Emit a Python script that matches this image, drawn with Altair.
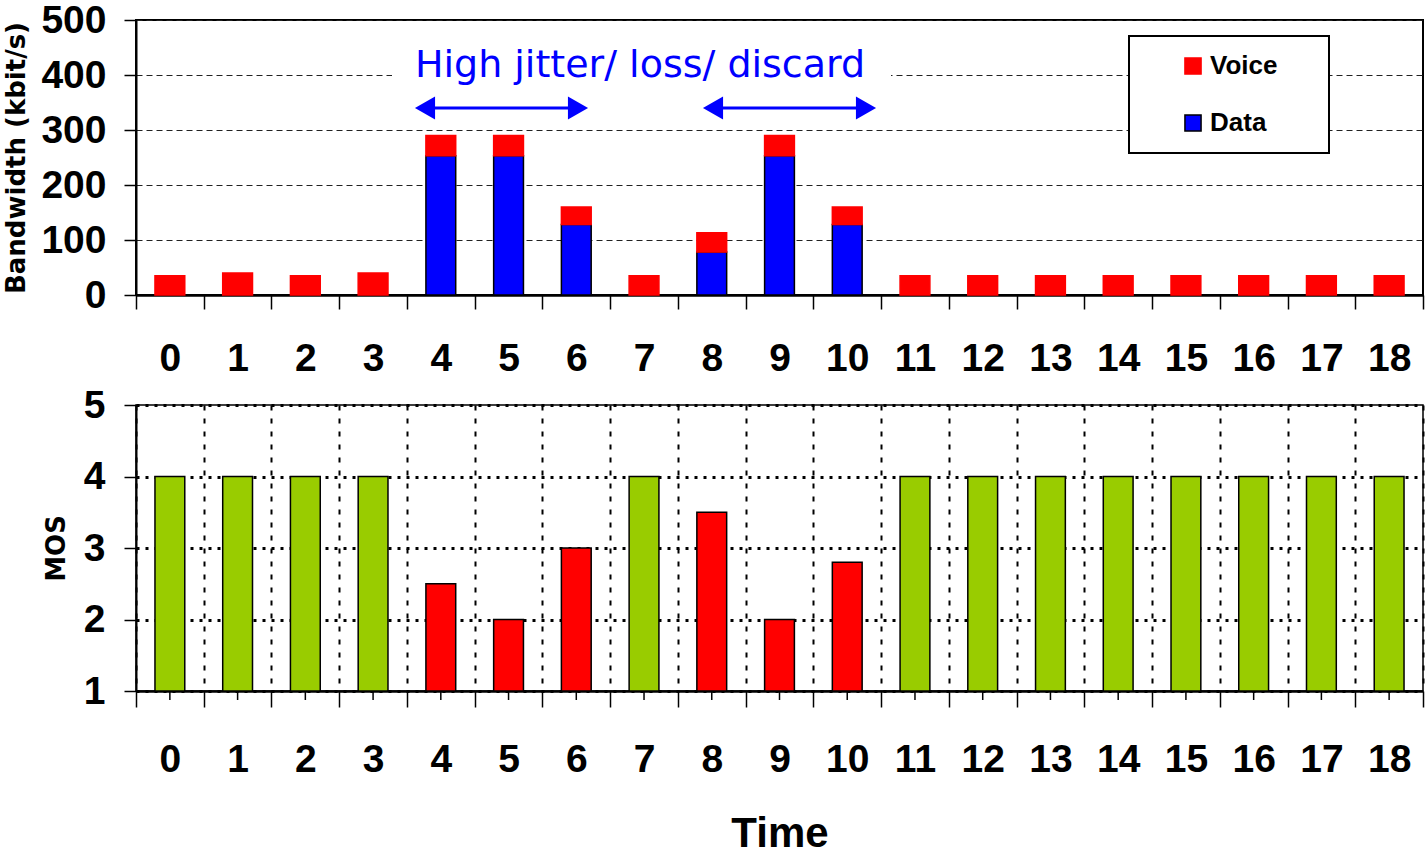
import altair as alt
import pandas as pd

# ---------------- data ----------------
times = list(range(19))
voice_bw = [35, 40, 35, 40, 37, 37, 32, 35, 35, 37, 32, 35, 35, 35, 35, 35, 35, 35, 35]
data_bw = [0, 0, 0, 0, 253, 253, 128, 0, 78, 253, 128, 0, 0, 0, 0, 0, 0, 0, 0]
mos = [4, 4, 4, 4, 2.5, 2, 3, 4, 3.5, 2, 2.8, 4, 4, 4, 4, 4, 4, 4, 4]
degraded_times = [4, 5, 6, 8, 9, 10]
series_names = ["Voice", "Data"]
state_names = ["Good", "Degraded"]
annotation = "High jitter/ loss/ discard"
y_title_top = "Bandwidth (kbit/s)"
y_title_bottom = "MOS"
x_title = "Time"

# ---------------- tables ----------------
rows = []
for t, v, d in zip(times, voice_bw, data_bw):
    if d > 0:
        rows.append({"t": t, "series": "Data", "value": d, "order": 0})
    rows.append({"t": t, "series": "Voice", "value": v, "order": 1})
bw_df = pd.DataFrame(rows)

mos_df = pd.DataFrame({
    "t": times,
    "mos": mos,
    "state": ["Degraded" if t in degraded_times else "Good" for t in times],
})

W = 1287
H_TOP = 275
H_BOT = 286
LABEL_FONT = "Liberation Sans, Arial, sans-serif"
TITLE_FONT = "DejaVu Sans, Verdana, sans-serif"

x_scale = alt.Scale(domain=times, paddingInner=0, paddingOuter=0)

# ---------------- top chart ----------------
top_x_axis = alt.Axis(
    title=None, tickBand="extent", grid=False, labelAngle=0,
    domainColor="black", domainWidth=2.5, tickColor="black", tickWidth=1.5, tickSize=14,
    labelFont=LABEL_FONT, labelFontSize=39, labelFontWeight="bold", labelColor="black",
    labelPadding=30,
)
top_y_axis = alt.Axis(
    title=y_title_top, values=[0, 100, 200, 300, 400, 500],
    grid=True, gridDash=[6, 4], gridColor="#222222", gridWidth=1,
    domainColor="black", domainWidth=2, tickColor="black", tickWidth=1.5, tickSize=12,
    labelFont=LABEL_FONT, labelFontSize=39, labelFontWeight="bold", labelColor="black",
    labelPadding=18,
    titleFont=TITLE_FONT, titleFontSize=26, titleFontWeight="bold", titleColor="black",
    titlePadding=11,
)

bars_top = alt.Chart(bw_df).mark_bar(
    width=alt.RelativeBandSize(0.44), strokeWidth=1.5
).encode(
    x=alt.X("t:O", scale=x_scale, axis=top_x_axis),
    y=alt.Y("value:Q", stack="zero", scale=alt.Scale(domain=[0, 500], nice=False), axis=top_y_axis),
    fill=alt.Fill("series:N", scale=alt.Scale(domain=series_names, range=["#FF0000", "#0000FF"]),
                  legend=alt.Legend(title=None)),
    stroke=alt.Stroke("series:N", scale=alt.Scale(domain=series_names, range=["#FF0000", "#000000"]),
                      legend=alt.Legend(title=None)),
    order=alt.Order("order:Q"),
)

one = pd.DataFrame({"label": [annotation]})

label_bg = alt.Chart(one).mark_rect(fill="white").encode(
    x=alt.value(256), x2=alt.value(755), y=alt.value(44), y2=alt.value(66)
)
label_text = alt.Chart(one).mark_text(
    font=TITLE_FONT, fontSize=38, color="#0000FF", align="center", baseline="alphabetic"
).encode(text="label:N", x=alt.value(504), y=alt.value(57))

legend_box = alt.Chart(one).mark_rect(fill="white", stroke="black", strokeWidth=2).encode(
    x=alt.value(993), x2=alt.value(1193), y=alt.value(16), y2=alt.value(133)
)

arrow_layers = []
for xa, xb in [(278, 453), (566, 741)]:
    arrow_layers.append(
        alt.Chart(one).mark_rule(color="#0000FF", strokeWidth=3).encode(
            x=alt.value(xa + 8), x2=alt.value(xb - 8), y=alt.value(88)
        )
    )
    arrow_layers.append(
        alt.Chart(one).mark_point(shape="triangle-left", filled=True, color="#0000FF", size=540, opacity=1).encode(
            x=alt.value(xa + 11), y=alt.value(88)
        )
    )
    arrow_layers.append(
        alt.Chart(one).mark_point(shape="triangle-right", filled=True, color="#0000FF", size=540, opacity=1).encode(
            x=alt.value(xb - 11), y=alt.value(88)
        )
    )

top = alt.layer(legend_box, label_bg, bars_top, label_text, *arrow_layers).properties(
    width=W, height=H_TOP, view=alt.ViewBackground(stroke="black", strokeWidth=2)
)

# ---------------- bottom chart ----------------
bot_x_axis = alt.Axis(
    title=x_title, tickBand="extent", grid=True, gridDash=[5, 8], gridColor="black", gridWidth=2,
    labelAngle=0,
    domainColor="black", domainWidth=2.5, tickColor="black", tickWidth=1.5, tickSize=16,
    labelFont=LABEL_FONT, labelFontSize=39, labelFontWeight="bold", labelColor="black",
    labelPadding=33,
    titleFont=LABEL_FONT, titleFontSize=42, titleFontWeight="bold", titleColor="black",
    titlePadding=34,
)
bot_y_axis = alt.Axis(
    title=y_title_bottom, values=[1, 2, 3, 4, 5],
    grid=True, gridDash=[3, 6], gridColor="black", gridWidth=3,
    domainColor="black", domainWidth=2, tickColor="black", tickWidth=1.5, tickSize=12,
    labelFont=LABEL_FONT, labelFontSize=39, labelFontWeight="bold", labelColor="black",
    labelPadding=19,
    titleFont=TITLE_FONT, titleFontSize=26, titleFontWeight="bold", titleColor="black",
    titlePadding=14,
)

bars_bot = alt.Chart(mos_df).mark_bar(
    width=alt.RelativeBandSize(0.44), stroke="black", strokeWidth=1.5
).encode(
    x=alt.X("t:O", scale=x_scale, axis=bot_x_axis),
    y=alt.Y("mos:Q", scale=alt.Scale(domain=[1, 5], nice=False, zero=False), axis=bot_y_axis),
    y2=alt.datum(1),
    fill=alt.Fill("state:N", scale=alt.Scale(domain=state_names, range=["#99CC00", "#FF0000"]),
                  legend=None),
)

center_ticks = alt.Chart(mos_df).mark_rule(color="black", strokeWidth=1.5).encode(
    x=alt.X("t:O", scale=x_scale), y=alt.value(H_BOT), y2=alt.value(H_BOT + 9)
)

bottom = alt.layer(bars_bot, center_ticks).properties(
    width=W, height=H_BOT, view=alt.ViewBackground(stroke="black", strokeWidth=1.5)
)

chart = alt.vconcat(top, bottom, spacing=6).resolve_scale(
    x="independent", fill="independent", stroke="independent"
).properties(
    padding={"left": 2, "top": 0, "right": 0, "bottom": 0},
    background="white",
).configure_legend(
    orient="none", legendX=1044, legendY=33, direction="vertical",
    symbolType="square", symbolSize=260, symbolStrokeWidth=1.5,
    labelFont=LABEL_FONT, labelFontSize=26, labelFontWeight="bold", labelColor="black",
    labelOffset=4, rowPadding=31, padding=0,
)

chart.save("out.html", embed_options={"renderer": "svg", "actions": False})
